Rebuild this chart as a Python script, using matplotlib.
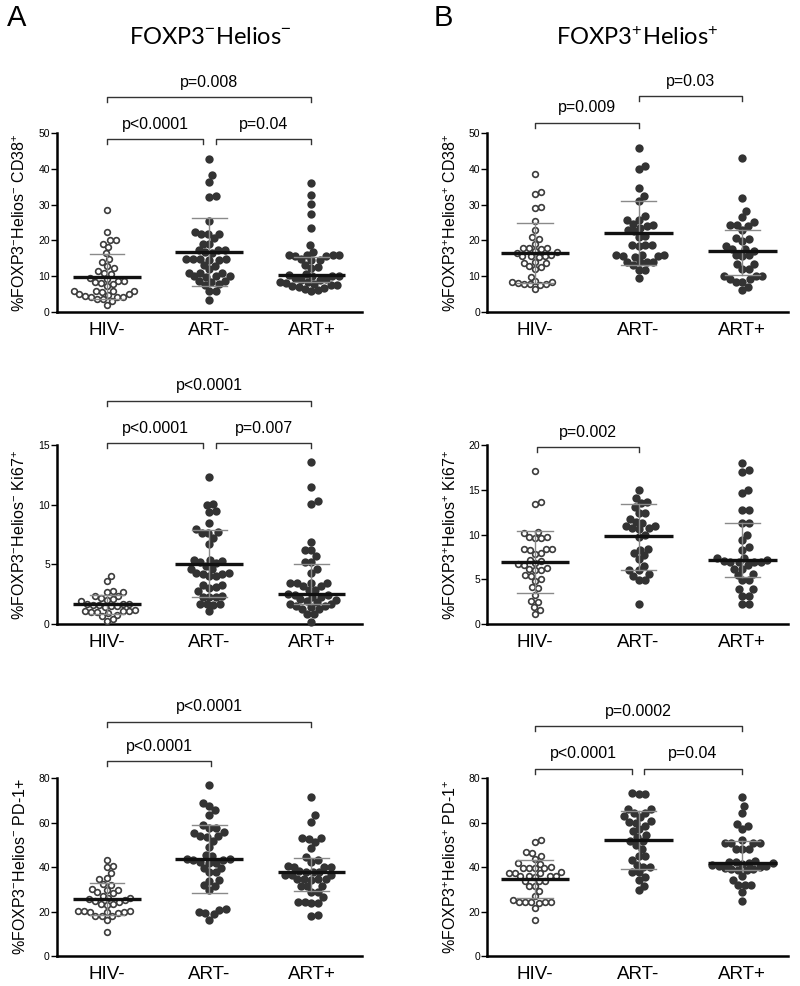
import numpy as np
import matplotlib
matplotlib.use('Agg')
from matplotlib import pyplot as plt

plt.rcParams['font.family'] = ['Liberation Sans', 'DejaVu Sans']
plt.rcParams['mathtext.fontset'] = 'custom'
plt.rcParams['mathtext.rm'] = 'Liberation Sans'
plt.rcParams['mathtext.it'] = 'Liberation Sans:italic'
plt.rcParams['mathtext.bf'] = 'Liberation Sans:bold'

groups = ['HIV-', 'ART-', 'ART+']

# FOXP3- Helios- CD38+
neg_cd38_hiv = [28.4, 22.3, 20.1, 20.1, 19.1, 18.2, 16.4, 14.7, 13.9, 12.8, 12.3, 11.4, 11.0, 10.6, 9.5,
                9.2, 8.7, 8.6, 8.5, 8.0, 7.9, 7.2, 5.9, 5.8, 5.8, 5.7, 5.9, 4.9, 4.8, 4.9, 4.3, 4.2, 4.4,
                4.3, 3.5, 3.5, 3.1, 2.0]
neg_cd38_artn = [42.8, 38.4, 36.4, 32.2, 32.3, 25.4, 22.3, 21.7, 21.7, 21.8, 20.7, 19.1, 19.1, 17.3, 17.3,
                 17.2, 16.7, 16.6, 14.7, 14.7, 14.6, 14.7, 14.6, 14.7, 13.0, 12.9, 11.9, 11.0, 11.0, 10.9,
                 10.0, 10.1, 10.0, 9.9, 8.6, 8.5, 8.6, 7.7, 7.6, 5.9, 5.9, 3.3]
neg_cd38_artp = [36.1, 32.7, 30.3, 27.4, 23.4, 18.7, 16.8, 16.0, 15.9, 15.8, 15.8, 15.7, 15.5, 14.7, 14.6,
                 14.5, 13.1, 12.6, 12.2, 10.6, 10.3, 10.1, 10.0, 10.0, 9.5, 9.2, 9.0, 8.8, 8.5, 8.3, 8.1,
                 7.8, 7.6, 7.4, 7.2, 7.0, 6.8, 6.4, 6.1, 5.8]
neg_cd38_center = [9.85, 16.8, 10.2]
neg_cd38_low = [3.6, 7.25, 8.5]
neg_cd38_high = [16.1, 26.2, 15.4]

# FOXP3+ Helios+ CD38+
pos_cd38_hiv = [38.6, 33.5, 33.0, 29.2, 29.0, 25.3, 23.0, 20.9, 20.5, 19.1, 17.9, 17.8, 17.8, 17.6, 17.0,
                16.8, 16.6, 15.8, 15.7, 15.7, 15.5, 15.4, 14.0, 13.8, 13.7, 12.8, 12.6, 12.0, 9.8, 8.6,
                8.5, 8.4, 8.0, 7.9, 7.8, 7.7, 7.4, 6.5]
pos_cd38_artn = [45.9, 40.7, 39.9, 34.7, 32.3, 31.0, 26.7, 25.6, 25.8, 24.7, 24.1, 24.3, 23.5, 22.8, 22.6,
                 21.2, 21.0, 18.6, 18.6, 18.5, 18.7, 15.8, 15.9, 15.8, 15.7, 15.4, 15.5, 14.0, 14.1, 13.9,
                 14.0, 13.0, 11.8, 11.8, 9.6]
pos_cd38_artp = [43.0, 31.8, 28.2, 26.5, 25.0, 24.2, 24.2, 24.0, 23.0, 20.7, 20.5, 19.8, 18.3, 17.7, 17.6,
                 17.0, 15.8, 15.8, 15.7, 13.5, 13.4, 12.1, 12.0, 10.1, 10.1, 10.0, 9.2, 9.1, 8.4, 8.3,
                 7.0, 6.1]
pos_cd38_center = [16.4, 22.1, 17.0]
pos_cd38_low = [8.0, 13.0, 10.2]
pos_cd38_high = [24.9, 31.0, 22.8]

# FOXP3- Helios- Ki67+
neg_ki67_hiv = [4.0, 3.6, 2.8, 2.7, 2.7, 2.4, 2.4, 2.2, 2.1, 2.0, 1.9, 1.7, 1.7, 1.7, 1.6, 1.6, 1.5, 1.5,
                1.4, 1.2, 1.1, 1.1, 1.1, 1.0, 1.0, 0.9, 0.8, 0.7, 0.4, 0.3]
neg_ki67_artn = [12.3, 10.0, 10.1, 9.5, 9.4, 8.5, 8.0, 7.7, 7.6, 7.6, 7.2, 6.7, 5.4, 5.4, 5.3, 5.2, 5.1,
                 4.9, 4.6, 4.6, 4.3, 4.2, 4.2, 4.3, 4.0, 4.0, 3.3, 3.3, 3.1, 3.0, 2.8, 2.3, 2.3, 2.4, 2.3,
                 1.7, 1.7, 1.7, 1.6, 1.1]
neg_ki67_artp = [13.6, 11.46, 10.3, 10.1, 6.9, 6.2, 6.2, 5.7, 5.2, 5.2, 4.6, 4.3, 3.46, 3.46, 3.46, 3.46,
                 3.2, 3.2, 2.85, 2.85, 2.5, 2.45, 2.3, 2.1, 1.9, 1.7, 1.55, 1.45, 1.5, 1.65, 1.85, 2.05,
                 2.3, 2.45, 1.23, 1.23, 0.81, 0.81, 0.2]
neg_ki67_center = [1.65, 5.05, 2.5]
neg_ki67_low = [0.85, 2.25, 1.7]
neg_ki67_high = [2.45, 7.9, 5.0]

# FOXP3+ Helios+ Ki67+
pos_ki67_hiv = [17.1, 13.6, 13.4, 10.3, 10.2, 9.7, 9.6, 9.6, 9.7, 8.4, 8.4, 8.3, 8.4, 7.9, 7.8, 7.1, 7.2,
                6.8, 6.7, 6.6, 6.3, 6.2, 6.0, 6.1, 5.5, 5.4, 5.0, 4.8, 4.1, 4.0, 3.3, 2.6, 2.5, 1.9, 1.6, 1.1]
pos_ki67_artn = [15.0, 14.1, 13.6, 13.5, 13.1, 12.4, 12.4, 11.8, 11.4, 11.3, 11.0, 11.0, 10.7, 10.7, 10.6,
                 10.0, 9.7, 8.4, 8.3, 7.9, 7.7, 7.3, 6.5, 6.1, 6.0, 5.6, 5.4, 4.9, 4.9, 2.3]
pos_ki67_artp = [18.0, 17.2, 17.0, 15.0, 14.6, 12.7, 12.7, 11.3, 11.3, 10.0, 9.4, 8.6, 8.3, 7.4, 7.4, 7.2,
                 7.1, 6.9, 6.9, 6.9, 6.9, 6.6, 6.2, 6.2, 5.6, 5.5, 4.9, 4.9, 3.9, 3.9, 3.2, 3.2, 2.2, 2.2]
pos_ki67_center = [7.0, 9.8, 7.2]
pos_ki67_low = [3.45, 6.1, 5.25]
pos_ki67_high = [10.45, 13.45, 11.3]

# FOXP3- Helios- PD-1+
neg_pd1_hiv = [43.0, 40.6, 39.8, 37.4, 34.9, 34.5, 32.2, 32.0, 30.0, 29.8, 29.6, 28.6, 28.2, 27.2, 26.3,
               26.1, 25.5, 25.0, 24.7, 24.5, 23.4, 23.2, 23.0, 20.3, 20.2, 20.1, 19.8, 19.7, 19.6, 19.5,
               18.1, 17.9, 17.8, 16.4, 10.8]
neg_pd1_artn = [77.0, 68.8, 67.3, 65.5, 63.5, 59.0, 57.5, 57.5, 55.6, 55.3, 54.0, 53.8, 53.6, 51.9, 49.0,
                45.2, 45.0, 43.5, 43.4, 43.2, 43.0, 42.3, 42.0, 41.9, 39.7, 39.5, 37.8, 37.6, 34.1, 33.9,
                31.8, 31.6, 29.9, 21.0, 20.9, 19.7, 19.2, 19.0, 16.4]
neg_pd1_artp = [71.6, 63.4, 60.4, 52.9, 52.9, 52.8, 51.4, 48.4, 44.4, 43.1, 42.4, 40.3, 40.1, 40.0, 40.2,
                38.0, 37.8, 37.9, 37.7, 36.5, 36.3, 36.4, 34.5, 34.6, 34.4, 34.5, 34.3, 31.5, 31.4, 31.6,
                28.9, 28.8, 26.4, 24.0, 24.2, 23.8, 24.1, 18.4, 18.2]
neg_pd1_center = [25.7, 43.6, 37.7]
neg_pd1_low = [18.5, 28.4, 29.4]
neg_pd1_high = [33.0, 58.7, 44.1]

# FOXP3+ Helios+ PD-1+
pos_pd1_hiv = [52.3, 51.1, 46.8, 46.5, 44.8, 43.8, 41.7, 41.5, 39.8, 39.6, 39.5, 39.4, 39.7, 37.6, 37.4,
               37.3, 37.5, 36.0, 35.9, 35.8, 35.7, 36.1, 33.7, 33.6, 33.5, 31.4, 31.3, 29.1, 26.9, 25.1,
               24.3, 24.2, 24.1, 24.2, 24.3, 24.0, 21.7, 16.1]
pos_pd1_artn = [73.2, 72.8, 72.7, 66.1, 66.0, 64.3, 64.5, 62.8, 62.7, 60.5, 60.4, 60.0, 58.3, 57.1, 56.1,
                54.6, 53.5, 51.6, 51.5, 50.1, 48.1, 45.1, 45.0, 43.3, 41.0, 40.1, 40.0, 37.7, 37.6, 35.6,
                34.1, 31.7, 29.9]
pos_pd1_artp = [71.6, 67.4, 64.1, 59.2, 58.5, 57.1, 52.1, 50.9, 50.6, 50.6, 50.9, 48.0, 48.0, 48.1, 42.5,
                42.3, 42.0, 41.6, 41.0, 40.4, 39.8, 39.2, 38.7, 38.6, 39.0, 39.7, 40.5, 41.3, 42.2, 36.1,
                34.2, 31.9, 31.9, 31.8, 28.6, 24.9]
pos_pd1_center = [34.7, 52.3, 41.9]
pos_pd1_low = [26.2, 39.3, 38.6]
pos_pd1_high = [43.3, 65.0, 51.9]


def swarm_offsets(ypix, d, squash=0.86):
    # beeswarm: place each point as close to the centre as possible without overlap;
    # vertical distance is squashed a little so the cloud spreads out sideways
    ys = np.asarray(ypix) * squash
    xs = np.zeros(len(ys))
    placed = []
    for i in np.argsort(ys):
        y = ys[i]
        near = [(px, py) for px, py in placed if abs(py - y) < d]
        cands = [0.0]
        for px, py in near:
            dx = np.sqrt(d * d - (py - y) ** 2)
            cands += [px + dx, px - dx]
        cands.sort(key=lambda c: (abs(c), -c))
        for c in cands:
            if all((c - px) ** 2 + (y - py) ** 2 >= d * d - 1e-6 for px, py in near):
                xs[i] = c
                break
        placed.append((xs[i], y))
    return xs


def draw_panel(ax, data, center, low, high, ymax, step, ylabel, brackets, xlim):
    ax.set_xlim(*xlim)
    ax.set_ylim(0, ymax)
    px_per_x = ax.transData.transform((1, 0))[0] - ax.transData.transform((0, 0))[0]
    for g, vals in enumerate(data):
        vals = np.array(vals)
        ypix = ax.transData.transform(np.column_stack([np.zeros(len(vals)), vals]))[:, 1]
        if g == 0:
            off = swarm_offsets(ypix, 6.1) / px_per_x
            ax.scatter(g + off, vals, s=17, facecolor='white', edgecolor='#3c3c3c',
                       linewidth=1.2, zorder=3, clip_on=False)
        else:
            off = swarm_offsets(ypix, 6.6) / px_per_x
            ax.scatter(g + off, vals, s=36, color='#333333', linewidth=0, zorder=3, clip_on=False)
        ax.plot([g, g], [low[g], high[g]], color='#8a8a8a', lw=1.0, zorder=4)
        ax.plot([g - 0.17, g + 0.17], [low[g], low[g]], color='#8a8a8a', lw=1.0, zorder=4)
        ax.plot([g - 0.17, g + 0.17], [high[g], high[g]], color='#8a8a8a', lw=1.0, zorder=4)
        ax.plot([g - 0.33, g + 0.33], [center[g], center[g]], color='#111111', lw=2.4, zorder=5,
                solid_capstyle='butt')

    ax.set_yticks(np.arange(0, ymax + 0.1, step))
    ax.set_xticks(range(3))
    ax.set_xticklabels(groups)
    ax.tick_params(axis='y', direction='out', length=4, width=1, labelsize=7.5, pad=1)
    ax.tick_params(axis='x', length=0, labelsize=13.5, pad=7)
    for s in ['top', 'right']:
        ax.spines[s].set_visible(False)
    for s in ['left', 'bottom']:
        ax.spines[s].set_linewidth(1.8)
    ax.set_ylabel(ylabel, fontsize=11.5)
    ax.yaxis.set_label_coords(-0.094, 0.5)

    tr = ax.get_xaxis_transform()
    for x0, x1, yb, yt, label in brackets:
        ax.plot([x0, x0, x1, x1], [yb - 0.028, yb, yb, yb - 0.028], color='#333333', lw=1.0,
                transform=tr, clip_on=False)
        ax.text((x0 + x1) / 2, yt, label, transform=tr, ha='center', va='center', fontsize=11.5)


fig = plt.figure(figsize=(8, 9.86), dpi=100)

left_x = (0.071, 0.381)
right_x = (0.609, 0.376)
rows = [(0.6836, 0.1815), (0.367, 0.1815), (0.0304, 0.1805)]
xlim_l = (-0.49, 2.49)
xlim_r = (-0.46, 2.44)

ax = fig.add_axes([left_x[0], rows[0][0], left_x[1], rows[0][1]])
draw_panel(ax, [neg_cd38_hiv, neg_cd38_artn, neg_cd38_artp], neg_cd38_center, neg_cd38_low,
           neg_cd38_high, 50, 10, r'%FOXP3$^{-}$Helios$^{-}$ CD38$^{+}$',
           [(0, 0.94, 0.966, 1.050, 'p<0.0001'), (1.07, 2.0, 0.966, 1.050, 'p=0.04'),
            (0, 2.0, 1.201, 1.285, 'p=0.008')], xlim_l)

ax = fig.add_axes([right_x[0], rows[0][0], right_x[1], rows[0][1]])
draw_panel(ax, [pos_cd38_hiv, pos_cd38_artn, pos_cd38_artp], pos_cd38_center, pos_cd38_low,
           pos_cd38_high, 50, 10, r'%FOXP3$^{+}$Helios$^{+}$ CD38$^{+}$',
           [(0, 1.0, 1.056, 1.145, 'p=0.009'), (1.0, 2.0, 1.207, 1.290, 'p=0.03')], xlim_r)

ax = fig.add_axes([left_x[0], rows[1][0], left_x[1], rows[1][1]])
draw_panel(ax, [neg_ki67_hiv, neg_ki67_artn, neg_ki67_artp], neg_ki67_center, neg_ki67_low,
           neg_ki67_high, 15, 5, r'%FOXP3$^{-}$Helios$^{-}$ Ki67$^{+}$',
           [(0, 0.94, 1.011, 1.092, 'p<0.0001'), (1.07, 2.0, 1.011, 1.092, 'p=0.007'),
            (0, 2.0, 1.246, 1.335, 'p<0.0001')], xlim_l)

ax = fig.add_axes([right_x[0], rows[1][0], right_x[1], rows[1][1]])
draw_panel(ax, [pos_ki67_hiv, pos_ki67_artn, pos_ki67_artp], pos_ki67_center, pos_ki67_low,
           pos_ki67_high, 20, 5, r'%FOXP3$^{+}$Helios$^{+}$ Ki67$^{+}$',
           [(0.02, 1.0, 0.989, 1.073, 'p=0.002')], xlim_r)

ax = fig.add_axes([left_x[0], rows[2][0], left_x[1], rows[2][1]])
draw_panel(ax, [neg_pd1_hiv, neg_pd1_artn, neg_pd1_artp], neg_pd1_center, neg_pd1_low,
           neg_pd1_high, 80, 20, r'%FOXP3$^{-}$Helios$^{-}$ PD-1+',
           [(0, 1.02, 1.096, 1.178, 'p<0.0001'), (0, 2.0, 1.315, 1.404, 'p<0.0001')], xlim_l)

ax = fig.add_axes([right_x[0], rows[2][0], right_x[1], rows[2][1]])
draw_panel(ax, [pos_pd1_hiv, pos_pd1_artn, pos_pd1_artp], pos_pd1_center, pos_pd1_low,
           pos_pd1_high, 80, 20, r'%FOXP3$^{+}$Helios$^{+}$ PD-1$^{+}$',
           [(0, 0.94, 1.051, 1.140, 'p<0.0001'), (1.05, 2.0, 1.051, 1.140, 'p=0.04'),
            (0, 2.0, 1.292, 1.376, 'p=0.0002')], xlim_r)

fig.text(17 / 800, 1 - 18 / 986, 'A', fontsize=21, ha='center', va='center')
fig.text(443 / 800, 1 - 18 / 986, 'B', fontsize=21, ha='center', va='center')
fig.text(0.2625, 1 - 38 / 986, r'FOXP3$^{-}$Helios$^{-}$', fontsize=17, ha='center', va='center',
         family='Lato')
fig.text(0.797, 1 - 38 / 986, r'FOXP3$^{+}$Helios$^{+}$', fontsize=17, ha='center', va='center',
         family='Lato')

fig.savefig('out.png', dpi=100)
